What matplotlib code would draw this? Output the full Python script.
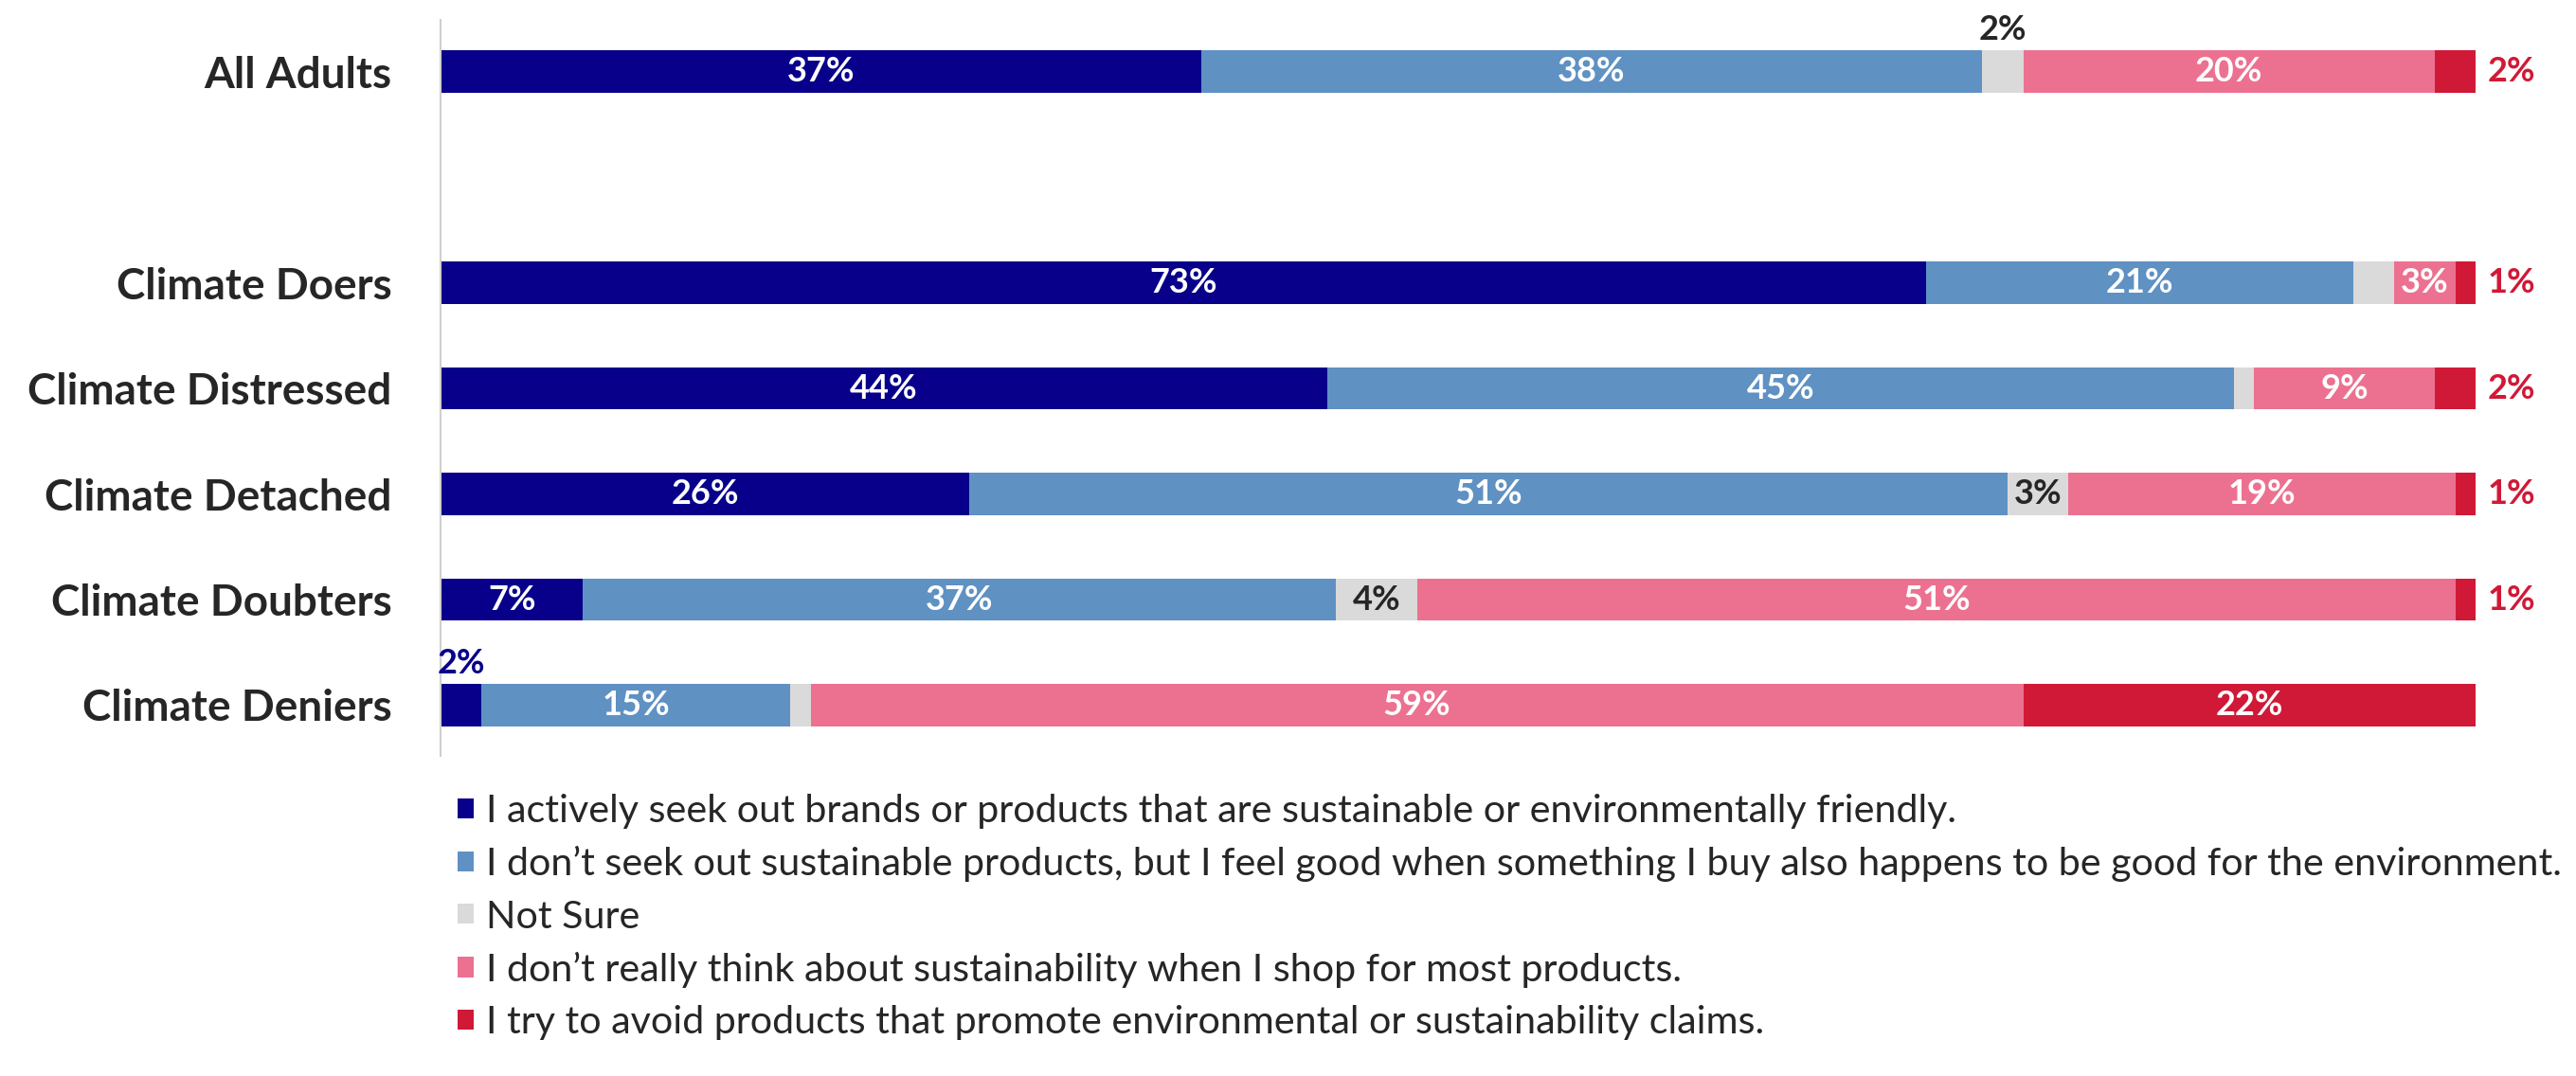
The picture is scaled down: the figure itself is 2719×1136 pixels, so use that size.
import matplotlib.pyplot as plt
import numpy as np

plt.rcParams["font.family"] = ["Lato", "DejaVu Sans"]

groups = ["All Adults", "Climate Doers", "Climate Distressed",
          "Climate Detached", "Climate Doubters", "Climate Deniers"]
answers = [
    "I actively seek out brands or products that are sustainable or environmentally friendly.",
    "I don\u2019t seek out sustainable products, but I feel good when something I buy also happens to be good for the environment.",
    "Not Sure",
    "I don\u2019t really think about sustainability when I shop for most products.",
    "I try to avoid products that promote environmental or sustainability claims.",
]
seek = [37, 73, 44, 26, 7, 2]
feel_good = [38, 21, 45, 51, 37, 15]
not_sure = [2, 2, 1, 3, 4, 1]
dont_think = [20, 3, 9, 19, 51, 59]
avoid = [2, 1, 2, 1, 1, 22]

colors = ["#08008A", "#5F91C3", "#DADADA", "#EC7190", "#D01937"]
text_dark = "#262626"

series = np.array([seek, feel_good, not_sure, dont_think, avoid], dtype=float)
shares = series / series.sum(axis=0) * 100  # 100% gestapelt
ypos = np.array([0, 2, 3, 4, 5, 6])  # Lücke nach "All Adults"

# Beschriftungen über dem Balken (Zeile, Serie)
above = [(0, 2), (5, 0)]
VAL_FS = 26

fig = plt.figure(figsize=(27.19, 11.36), dpi=100)
ax = fig.add_axes([465 / 2719, 1 - 798 / 1136, (2613 - 465) / 2719, (798 - 21) / 1136])

left = np.zeros(len(groups))
bars = []
for i in range(len(answers)):
    b = ax.barh(ypos, shares[i], left=left, height=0.4, color=colors[i], label=answers[i])
    bars.append(b)
    for j in range(len(groups)):
        val = int(series[i, j])
        cx = left[j] + shares[i, j] / 2
        txt = f"{val}%"
        if (j, i) in above:
            c = text_dark if i == 2 else colors[0]
            ax.text(cx, ypos[j] - 0.25, txt, ha="center", va="bottom",
                    fontsize=VAL_FS, fontweight="bold", color=c)
        elif i == 4 and val < 5:
            ax.text(100.6, ypos[j], txt, ha="left", va="center",
                    fontsize=VAL_FS, fontweight="bold", color=colors[4])
        elif i == 2:
            if val >= 3:
                ax.text(cx, ypos[j], txt, ha="center", va="center",
                        fontsize=VAL_FS, fontweight="bold", color=text_dark)
        else:
            ax.text(cx, ypos[j], txt, ha="center", va="center",
                    fontsize=VAL_FS, fontweight="bold", color="white")
    left += shares[i]

ax.set_xlim(0, 100)
ax.set_ylim(6.48, -0.49)
ax.set_yticks(ypos, groups)
ax.tick_params(axis="y", length=0, pad=37, labelsize=33, labelcolor=text_dark)
for lab in ax.get_yticklabels():
    lab.set_fontweight("bold")
ax.xaxis.set_visible(False)
for s in ["top", "right", "bottom"]:
    ax.spines[s].set_visible(False)
ax.spines["left"].set_color("#D0D0D0")
ax.spines["left"].set_linewidth(1.5)

ax.legend(handles=bars, labels=answers, loc="upper left",
          bbox_to_anchor=(483 / 2719, 1 - 838 / 1136), bbox_transform=fig.transFigure,
          frameon=False, fontsize=29.7, handlelength=0.42, handleheight=0.42,
          handletextpad=0.3, labelspacing=0.44, borderpad=0, borderaxespad=0,
          labelcolor=text_dark)

plt.savefig("out.png", dpi=100)
